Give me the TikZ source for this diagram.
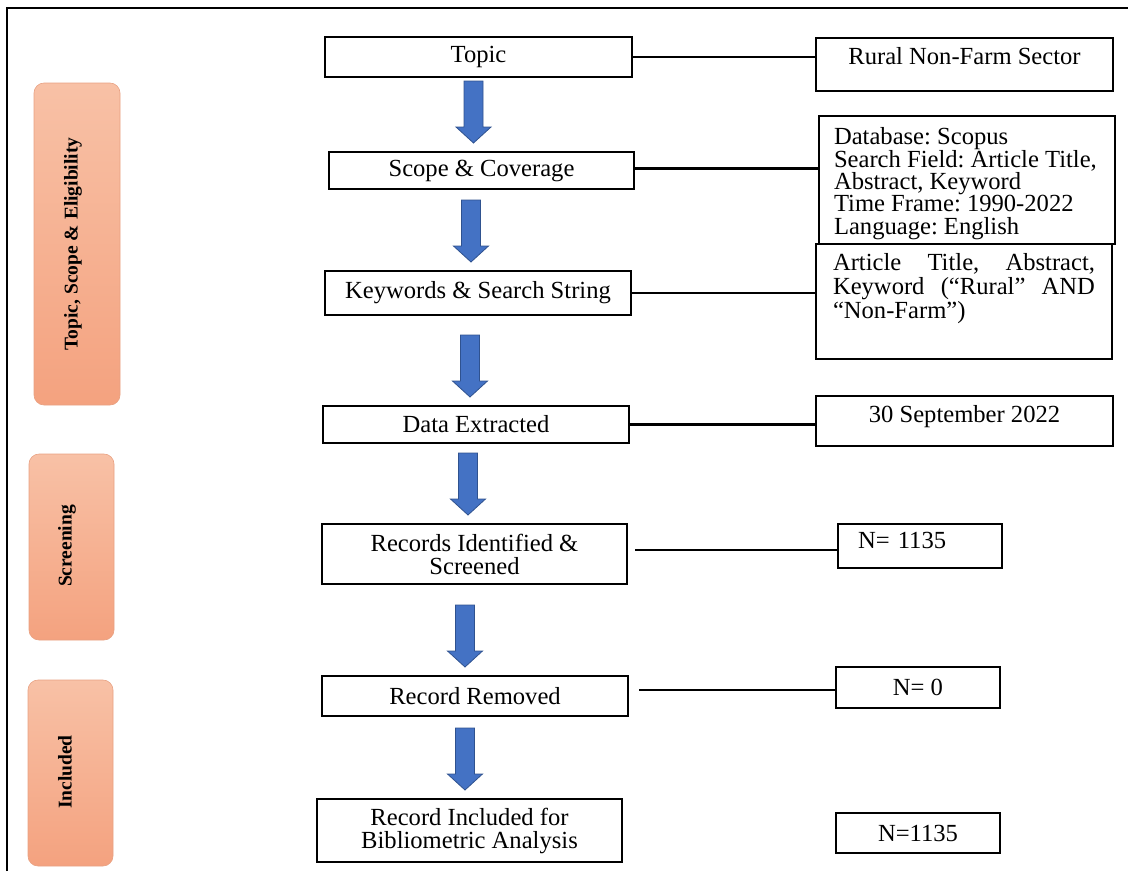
\documentclass[tikz,border=0pt]{standalone}
\usepackage{fontspec}
\setmainfont{Liberation Serif}
\usetikzlibrary{calc}

\definecolor{arrowblue}{HTML}{4472C4}
\definecolor{arrowline}{HTML}{2F528F}
\definecolor{pilltop}{HTML}{F8C1A6}
\definecolor{pillbottom}{HTML}{F4A27F}
\definecolor{pillline}{HTML}{E8A182}

\tikzset{
    stagebox/.style={draw=black, line width=2pt, inner sep=0pt, align=center,
        font=\fontsize{24.6}{23}\selectfont},
    notebox/.style={draw=black, line width=2pt, inner sep=0pt, anchor=north west,
        font=\fontsize{24.6}{22.3}\selectfont},
    phase/.style={rounded corners=10pt, top color=pilltop, bottom color=pillbottom,
        draw=pillline, line width=0.6pt},
    phasetext/.style={rotate=90, font=\bfseries\fontsize{19.5}{22}\selectfont},
    link/.style={line width=2.5pt},
    blockarrow/.style={fill=arrowblue, draw=arrowline, line width=0.8pt}
}

% block arrow below a box, tip just above the next one
\newcommand\flowarrow[3][9pt]{%
    \filldraw[blockarrow] let \p1=(#2.south), \p2=(#3.north) in
        (\x1-#1-9.5pt,\y2+70pt) -- (\x1-#1+9.5pt,\y2+70pt) -- (\x1-#1+9.5pt,\y2+24pt)
        -- (\x1-#1+17.5pt,\y2+24pt) -- (\x1-#1,\y2+8pt) -- (\x1-#1-17.5pt,\y2+24pt)
        -- (\x1-#1-9.5pt,\y2+24pt) -- cycle;}
% plain word spaces inside ragged node text
\newcommand\plainspaces{\spaceskip=0pt\xspaceskip=0pt\relax}

\begin{document}
\frenchspacing
\begin{tikzpicture}[x=1pt, y=-1pt]
            \useasboundingbox (0,0) rectangle (1128,871);
            \draw[line width=1.5pt] (7,871) -- (7,8) -- (1128,8);

            % phases
            \path[phase] (34,83) rectangle (120,405);
            \path[phase] (29,454) rectangle (114,640);
            \path[phase] (28,680) rectangle (113,866);
            \node[phasetext] (ph1) at (73,244) {Topic, Scope \& Eligibility};
            \node[phasetext] (ph2) at (67,546) {Screening};
            \node[phasetext] (ph3) at (65,772) {Included};

            % steps
            \node[stagebox, minimum width=307pt, minimum height=40pt] (topic) at (478.5,57) {Topic};
            \node[stagebox, minimum width=305pt, minimum height=37pt] (scope) at (481.5,170.5) {Scope \& Coverage};
            \node[stagebox, minimum width=306pt, minimum height=44pt] (keys) at (478,293) {Keywords \& Search String};
            \node[stagebox, minimum width=306pt, minimum height=37pt] (data) at (476,424.5) {Data Extracted};
            \node[stagebox, minimum width=305pt, minimum height=60pt] (records) at (474.5,554) {Records Identified \&\\Screened};
            \node[stagebox, minimum width=306pt, minimum height=40pt] (removed) at (475,696) {Record Removed};
            \node[stagebox, minimum width=305pt, minimum height=63pt] (included) at (469.5,830.5) {Record Included for\\Bibliometric Analysis};

            % details
            \node[notebox, minimum width=297pt, text height=26pt, text depth=27pt, align=center] (rural) at (815,37) {Rural Non-Farm Sector};
            \node[notebox, text width=266pt, inner xsep=15pt, text height=28pt, text depth=100pt, align=left] (dbase) at (818,115)
                {\plainspaces Database: Scopus\\Search Field: Article Title,\\Abstract, Keyword\\Time Frame: 1990-2022\\Language: English};
            \node[notebox, text width=262pt, inner xsep=17pt, text height=26pt, text depth=89pt, align=left,
                font=\fontsize{24.6}{24}\selectfont] (artic) at (815,243)
                {\makebox[262pt][l]{Article\hfill Title,\hfill Abstract,}\\\makebox[262pt][l]{Keyword\hfill (“Rural”\hfill AND}\\“Non-Farm”)};
            \node[notebox, minimum width=297pt, text height=26pt, text depth=24pt, align=center] (sept) at (815,395) {30 September 2022};
            \node[notebox, text width=124pt, inner xsep=20pt, text height=24pt, text depth=20pt, align=left] (nid) at (837,523) {N= 1135};
            \node[notebox, minimum width=164pt, minimum height=41pt] (nrem) at (835,666) {N= 0};
            \node[notebox, minimum width=164pt, minimum height=40pt] (ninc) at (835,812) {N=1135};

            % links
            \draw[link] (topic.east) -- (topic.east -| rural.west);
            \draw[link] ([yshift=2pt]scope.east) -- ([yshift=2pt]scope.east -| dbase.west);
            \draw[link] (keys.east) -- (keys.east -| artic.west);
            \draw[link] (data.east) -- (data.east -| sept.west);
            \draw[link] ([xshift=7pt, yshift=4pt]records.east) -- ([yshift=4pt]records.east -| nid.west);
            \draw[link] ([xshift=10pt, yshift=6pt]removed.east) -- ([yshift=6pt]removed.east -| nrem.west);

            % arrows
            \flowarrow[5pt]{topic}{scope}
            \flowarrow[10.5pt]{scope}{keys}
            \flowarrow[8pt]{keys}{data}
            \flowarrow[8pt]{data}{records}
            \flowarrow[9.5pt]{records}{removed}
            \flowarrow[10pt]{removed}{included}
        \end{tikzpicture}
\end{document}
